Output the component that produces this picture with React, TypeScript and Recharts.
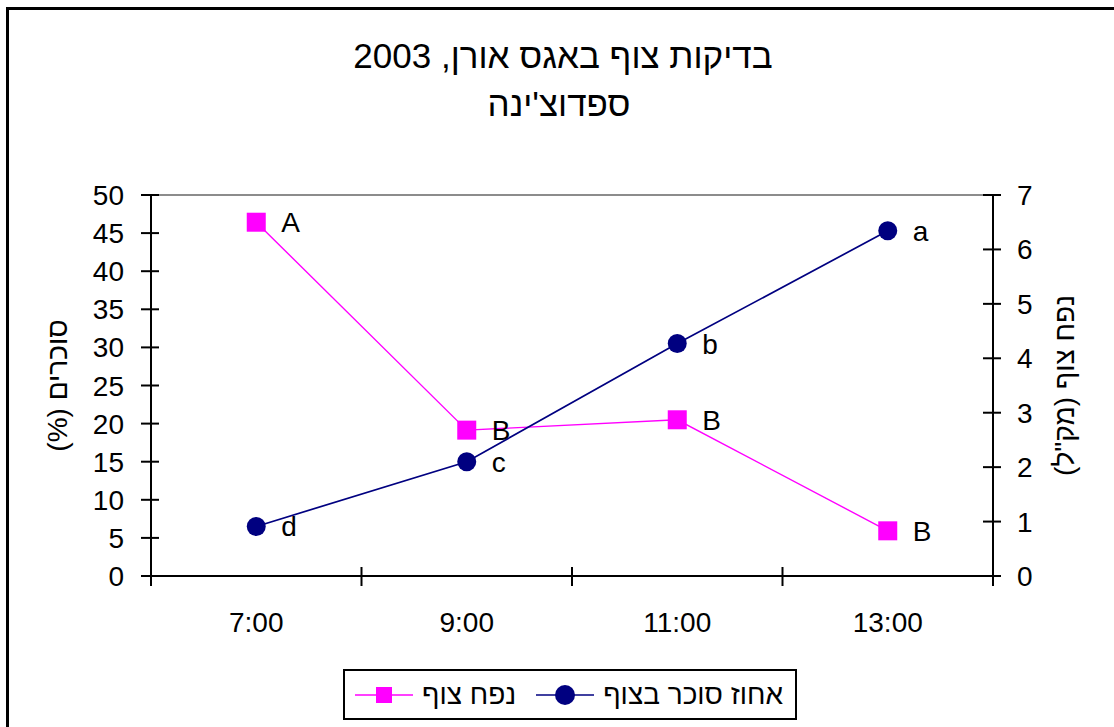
import React from 'react';
import { ComposedChart, Line, XAxis, YAxis, ReferenceLine, LabelList } from 'recharts';

// nectar test, Oren pear orchard 2003
const times = ['7:00', '9:00', '11:00', '13:00'];
const sugarPercent = [6.5, 15, 30.5, 45.3];
const sugarLetters = ['d', 'c', 'b', 'a'];
const nectarVolume = [6.5, 2.68, 2.87, 0.83];
const volumeLetters = ['A', 'B', 'B', 'B'];
const sugarTicks = [0, 5, 10, 15, 20, 25, 30, 35, 40, 45, 50];
const volumeTicks = [0, 1, 2, 3, 4, 5, 6, 7];

const titleLine1 = 'בדיקות צוף באגס אורן, 2003';
const titleLine2 = "ספדוצ'ינה";
const sugarName = 'אחוז סוכר בצוף';
const volumeName = 'נפח צוף';
const sugarAxisTitle = 'סוכרים (%)';
const volumeAxisTitle = 'נפח צוף (מק"ל)';

const FONT = '"Liberation Sans", Arial, sans-serif';
const PINK = '#ff00ff';
const NAVY = '#000080';

const data = times.map((time, i) => ({
  time,
  sugar: sugarPercent[i],
  sugarLabel: sugarLetters[i],
  volume: nectarVolume[i],
  volumeLabel: volumeLetters[i],
}));

// ticks that cross the axis line, like the old Excel look
const LeftTick = ({ x, y, payload }: any) => (
  <g>
    <line x1={x - 10} x2={x + 8} y1={y} y2={y} stroke="#000" strokeWidth={2} />
    <text x={x - 27} y={y} dy={10} textAnchor="end" fontSize={28} fontFamily={FONT} fill="#000">
      {payload.value}
    </text>
  </g>
);

const RightTick = ({ x, y, payload }: any) => (
  <g>
    <line x1={x - 10} x2={x + 8} y1={y} y2={y} stroke="#000" strokeWidth={2} />
    <text x={x + 24} y={y} dy={10} textAnchor="start" fontSize={28} fontFamily={FONT} fill="#000">
      {payload.value}
    </text>
  </g>
);

// category ticks sit between the categories, labels in the middle
const BottomTick = ({ x, y, payload, index, visibleTicksCount }: any) => {
  const half = payload.offset ?? 0;
  const isLast = index === (visibleTicksCount ?? times.length) - 1;
  return (
    <g>
      <line x1={x - half} x2={x - half} y1={y - 9} y2={y + 10} stroke="#000" strokeWidth={2} />
      {isLast && <line x1={x + half} x2={x + half} y1={y - 9} y2={y + 10} stroke="#000" strokeWidth={2} />}
      <text x={x} y={y + 56} textAnchor="middle" fontSize={28} fontFamily={FONT} fill="#000">
        {payload.value}
      </text>
    </g>
  );
};

const LegendItem = ({ color, shape, label }: { color: string; shape: 'square' | 'circle'; label: string }) => (
  <div style={{ display: 'flex', alignItems: 'center' }}>
    <svg width={58} height={24}>
      <line x1={0} x2={58} y1={12} y2={12} stroke={color} strokeWidth={1.5} />
      {shape === 'square' ? (
        <rect x={21} y={4} width={16} height={16} fill={color} />
      ) : (
        <circle cx={29} cy={12} r={10} fill={color} />
      )}
    </svg>
    <span dir="rtl" style={{ marginLeft: 9, fontSize: 28, fontFamily: FONT, color: '#000' }}>{label}</span>
  </div>
);

export default function App() {
  return (
    <div style={{ position: 'absolute', left: 0, top: 0, width: 1114, height: 727, background: '#fff', overflow: 'hidden' }}>
      {/* outer frame */}
      <div
        style={{
          position: 'absolute',
          left: 6,
          top: 7,
          width: 1200,
          height: 800,
          borderLeft: '3px solid #000',
          borderTop: '3px solid #000',
        }}
      />

      <div
        dir="rtl"
        style={{
          position: 'absolute',
          left: 0,
          width: 1126,
          top: 38,
          textAlign: 'center',
          fontSize: 35,
          lineHeight: '35px',
          fontFamily: FONT,
          color: '#000',
        }}
      >
        {titleLine1}
      </div>
      <div
        dir="rtl"
        style={{
          position: 'absolute',
          left: 0,
          width: 1118,
          top: 86,
          textAlign: 'center',
          fontSize: 35,
          lineHeight: '35px',
          fontFamily: FONT,
          color: '#000',
        }}
      >
        {titleLine2}
      </div>

      <div style={{ position: 'absolute', left: 0, top: 0 }}>
        <ComposedChart width={1114} height={727} data={data} margin={{ top: 195, right: 21, bottom: 91, left: 51 }}>
          <XAxis
            dataKey="time"
            scale="band"
            height={60}
            interval={0}
            tickSize={0}
            tickMargin={0}
            tickLine={false}
            axisLine={{ stroke: '#000', strokeWidth: 2 }}
            tick={(p: any) => <BottomTick {...p} />}
          />
          <YAxis
            yAxisId="sugar"
            orientation="left"
            width={100}
            domain={[0, 50]}
            ticks={sugarTicks}
            interval={0}
            tickSize={0}
            tickMargin={0}
            tickLine={false}
            axisLine={{ stroke: '#000', strokeWidth: 2 }}
            tick={(p: any) => <LeftTick {...p} />}
            label={{
              value: sugarAxisTitle,
              angle: -90,
              position: 'insideLeft',
              offset: 6,
              style: { textAnchor: 'middle', fontSize: 28, fontFamily: FONT, fill: '#000', direction: 'rtl' },
            }}
          />
          <YAxis
            yAxisId="volume"
            orientation="right"
            width={100}
            domain={[0, 7]}
            ticks={volumeTicks}
            interval={0}
            tickSize={0}
            tickMargin={0}
            tickLine={false}
            axisLine={{ stroke: '#000', strokeWidth: 2 }}
            tick={(p: any) => <RightTick {...p} />}
            label={{
              value: volumeAxisTitle,
              angle: -90,
              position: 'insideRight',
              offset: 29,
              style: { textAnchor: 'middle', fontSize: 28, fontFamily: FONT, fill: '#000', direction: 'rtl' },
            }}
          />
          {/* plot area top border */}
          <ReferenceLine yAxisId="sugar" y={50} stroke="#8c8c8c" strokeWidth={2} />

          <Line
            yAxisId="volume"
            dataKey="volume"
            name={volumeName}
            stroke={PINK}
            strokeWidth={1.4}
            isAnimationActive={false}
            activeDot={false}
            dot={(p: any) => (
              <rect key={`vol-${p.index}`} x={p.cx - 9.5} y={p.cy - 9.5} width={19} height={19} fill={PINK} />
            )}
          >
            <LabelList dataKey="volumeLabel" position="right" offset={25} fontSize={28} fontFamily={FONT} fill="#000" />
          </Line>
          <Line
            yAxisId="sugar"
            dataKey="sugar"
            name={sugarName}
            stroke={NAVY}
            strokeWidth={1.7}
            isAnimationActive={false}
            activeDot={false}
            dot={(p: any) => <circle key={`sug-${p.index}`} cx={p.cx} cy={p.cy} r={9.5} fill={NAVY} />}
          >
            <LabelList dataKey="sugarLabel" position="right" offset={25} fontSize={28} fontFamily={FONT} fill="#000" />
          </Line>
        </ComposedChart>
      </div>

      {/* legend */}
      <div
        style={{
          position: 'absolute',
          left: 343,
          top: 669,
          width: 454,
          height: 51,
          boxSizing: 'border-box',
          border: '2px solid #000',
          display: 'flex',
          alignItems: 'center',
          paddingLeft: 10,
          gap: 20,
        }}
      >
        <LegendItem color={PINK} shape="square" label={volumeName} />
        <LegendItem color={NAVY} shape="circle" label={sugarName} />
      </div>
    </div>
  );
}
